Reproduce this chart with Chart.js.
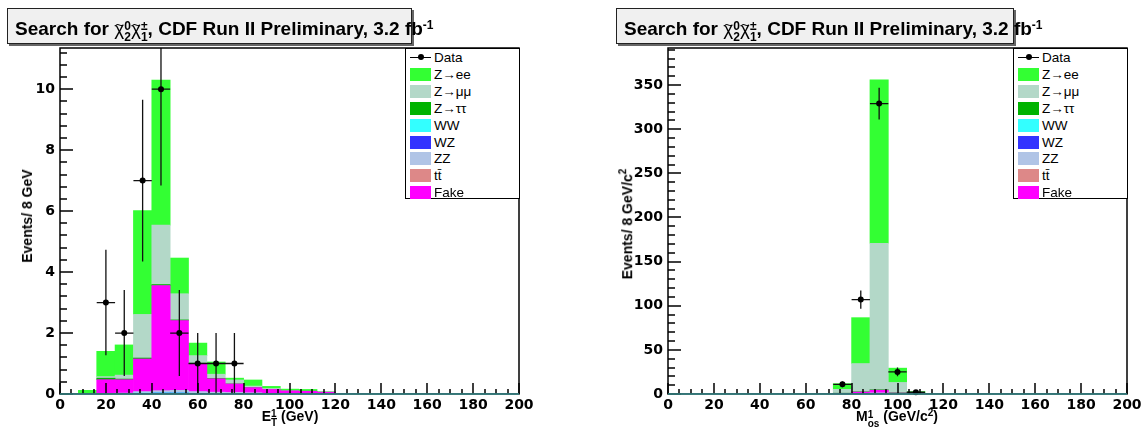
<!DOCTYPE html>
<html>
<head>
<meta charset="utf-8">
<script src="https://cdn.jsdelivr.net/npm/chart.js@4.4.1/dist/chart.umd.min.js"></script>
<style>
  body { margin: 0; background: #fff; font-family: "Liberation Sans", Arial, sans-serif; }
  #page { position: relative; width: 1147px; height: 431px; overflow: hidden; }
  canvas { position: absolute; top: 0; }
  .title { position: absolute; top: 8px; height: 36px; background: #f0f0f0; border: 1px solid #222;
           box-shadow: 2px 2px 0 #666; font-weight: bold; font-size: 19px; line-height: 40px;
           padding-left: 7px; box-sizing: border-box; white-space: nowrap; }
  .chi { position: relative; font-weight: normal; }
  .chi .til { position: absolute; left: 1px; top: -13px; font-size: 15px; font-weight: normal; }
  .ss { display: inline-block; vertical-align: -6px; font-size: 12px; line-height: 11px; text-align: left; }
  .ss > span { display: block; }
  .legend { position: absolute; top: 48px; height: 151px; background: #fff; border: 1px solid #000;
            box-sizing: border-box; font-size: 13.5px; }
  .legend .row { position: absolute; left: 0; height: 17px; line-height: 17px; width: 100%; }
  .legend .sw { position: absolute; left: 4px; top: 2px; width: 21px; height: 13px; box-sizing: border-box; }
  .legend .lab { position: absolute; left: 28px; top: 0; }
  .legend .dline { position: absolute; left: 4px; top: 8px; width: 21px; height: 1px; background: #000; }
  .legend .ddot { position: absolute; left: 12px; top: 5px; width: 6px; height: 6px; border-radius: 3px; background: #000; }
  .axt { position: absolute; font-weight: bold; font-size: 14px; white-space: nowrap; transform: translate(-50%, -50%); }
  .axt.rot { transform: translate(-50%, -50%) rotate(-90deg); }
  .axt .ss { font-size: 10px; line-height: 9px; vertical-align: -5px; }
  .axt sup { font-size: 10px; }
</style>
</head>
<body>
<div id="page">
  <canvas id="etChart" width="573" height="431" style="left:0"></canvas>
  <canvas id="mChart" width="573" height="431" style="left:574px"></canvas>

  <div class="title" style="left:7px;width:405px">Search for <span class="chi">χ<span class="til">~</span></span><span class="ss"><span>0</span><span>2</span></span><span class="chi">χ<span class="til">~</span></span><span class="ss"><span>±</span><span>1</span></span>, CDF Run II Preliminary, 3.2 fb<span class="ss" style="vertical-align:6px"><span>-1</span></span></div>
  <div class="title" style="left:616px;width:398px">Search for <span class="chi">χ<span class="til">~</span></span><span class="ss"><span>0</span><span>2</span></span><span class="chi">χ<span class="til">~</span></span><span class="ss"><span>±</span><span>1</span></span>, CDF Run II Preliminary, 3.2 fb<span class="ss" style="vertical-align:6px"><span>-1</span></span></div>

  <div class="legend" id="etLegend" style="left:405px;width:115px"></div>
  <div class="legend" id="mLegend" style="left:1013px;width:115px"></div>

  <div class="axt rot" style="left:27px;top:216px">Events/ 8 GeV</div>
  <div class="axt" style="left:290px;top:417px">E<span class="ss"><span>1</span><span>T</span></span> (GeV)</div>
  <div class="axt rot" style="left:626px;top:224px">Events/ 8 GeV/c<sup>2</sup></div>
  <div class="axt" style="left:897px;top:417px">M<span class="ss"><span>1</span><span>os</span></span> (GeV/c<sup>2</sup>)</div>
</div>

<script>
// 8 GeV bins from 0 to 200
const binCenters = [4, 12, 20, 28, 36, 44, 52, 60, 68, 76, 84, 92, 100, 108, 116, 124, 132, 140, 148, 156, 164, 172, 180, 188, 196];

// stack order bottom -> top
const bkgNames  = ['tt̄', 'WZ', 'WW', 'ZZ', 'Fake', 'Z→ττ', 'Z→μμ', 'Z→ee'];
const bkgColors = ['#dd8888', '#3333ff', '#33ffff', '#b0c4e6', '#ff00ff', '#00b300', '#b3d8c8', '#33ff33'];
// legend order
const legendNames = ['Z→ee', 'Z→μμ', 'Z→ττ', 'WW', 'WZ', 'ZZ', 'tt̄', 'Fake'];

// ---- E_T^1 panel ----
const etTT   = [0, 0, 0, 0, 0, 0.01, 0.01, 0, 0, 0, 0, 0, 0, 0, 0, 0, 0, 0, 0, 0, 0, 0, 0, 0, 0];
const etWZ   = [0, 0, 0, 0.01, 0.02, 0.02, 0.02, 0.01, 0.01, 0.01, 0.01, 0, 0, 0, 0, 0, 0, 0, 0, 0, 0, 0, 0, 0, 0];
const etWW   = [0, 0, 0, 0, 0.01, 0.01, 0.01, 0.01, 0, 0, 0, 0, 0, 0, 0, 0, 0, 0, 0, 0, 0, 0, 0, 0, 0];
const etZZ   = [0, 0, 0.02, 0.02, 0.05, 0.07, 0.08, 0.06, 0.05, 0.04, 0.03, 0.02, 0.02, 0.02, 0.01, 0.01, 0.01, 0.01, 0, 0, 0, 0, 0, 0, 0];
const etFake = [0, 0.02, 0.45, 0.44, 1.07, 3.45, 2.29, 0.91, 0.44, 0.28, 0.17, 0.13, 0.08, 0.07, 0.05, 0.01, 0, 0, 0, 0, 0, 0, 0, 0, 0];
const etZtt  = [0, 0, 0.05, 0.02, 0.03, 0.03, 0.02, 0.02, 0.01, 0, 0, 0, 0, 0, 0, 0, 0, 0, 0, 0, 0, 0, 0, 0, 0];
const etZmm  = [0, 0, 0.05, 0.13, 1.43, 1.95, 0.86, 0.25, 0.14, 0.13, 0.05, 0.03, 0.02, 0, 0, 0, 0, 0, 0, 0, 0, 0, 0, 0, 0];
const etZee  = [0, 0.10, 0.83, 0.99, 3.41, 4.76, 1.17, 0.41, 0.40, 0.06, 0.20, 0.07, 0.04, 0.06, 0.01, 0, 0, 0, 0, 0, 0, 0, 0, 0, 0];
const etDataX   = [20, 28, 36, 44, 52, 60, 68, 76];
const etDataY   = [3, 2, 7, 10, 2, 1, 1, 1];
const etDataErr = [1.73, 1.41, 2.65, 3.16, 1.41, 1, 1, 1];

// ---- M_os^1 panel ----
const mTT   = [0, 0, 0, 0, 0, 0, 0, 0, 0, 0, 0, 0, 0, 0, 0, 0, 0, 0, 0, 0, 0, 0, 0, 0, 0];
const mWZ   = [0, 0, 0, 0, 0, 0, 0, 0, 0, 0, 0.2, 0.3, 0.1, 0, 0, 0, 0, 0, 0, 0, 0, 0, 0, 0, 0];
const mWW   = [0, 0, 0, 0, 0, 0, 0, 0, 0, 0, 0, 0, 0, 0, 0, 0, 0, 0, 0, 0, 0, 0, 0, 0, 0];
const mZZ   = [0, 0, 0, 0, 0, 0, 0, 0, 0, 0.5, 0.5, 1.0, 0.3, 0, 0, 0, 0, 0, 0, 0, 0, 0, 0, 0, 0];
const mFake = [0, 0, 0, 0, 0, 0, 0, 0, 0, 0.3, 1.5, 3.0, 0.7, 0.2, 0, 0, 0, 0, 0, 0, 0, 0, 0, 0, 0];
const mZtt  = [0, 0, 0, 0, 0, 0, 0, 0, 0, 0.1, 0.3, 0.5, 0.2, 0, 0, 0, 0, 0, 0, 0, 0, 0, 0, 0, 0];
const mZmm  = [0, 0, 0, 0, 0, 0, 0, 0, 0, 4.4, 32, 166, 11.8, 1.0, 0, 0, 0, 0, 0, 0, 0, 0, 0, 0, 0];
const mZee  = [0, 0, 0, 0, 0, 0, 0, 0, 0, 6.4, 52, 185, 16.2, 1.5, 0, 0, 0, 0, 0, 0, 0, 0, 0, 0, 0];
const mDataX   = [76, 84, 92, 100, 108];
const mDataY   = [11, 107, 329, 25, 2];
const mDataErr = [3.3, 10.3, 18.1, 5, 1.4];

const tickFont = { family: '"DejaVu Sans", Arial, sans-serif', size: 14, weight: 'bold' };

// ROOT-style frame with ticks pointing inwards
function rootFrame(yMajor, yMinor) {
  return {
    id: 'rootFrame',
    afterDatasetsDraw(chart) {
      const { ctx, chartArea: a, scales: { x, y } } = chart;
      ctx.save();
      ctx.strokeStyle = '#000';
      ctx.lineWidth = 1.5;
      ctx.beginPath();
      for (let v = 0; v <= y.max + 1e-9; v += yMinor) {
        const py = Math.round(y.getPixelForValue(v));
        const major = Math.abs(v / yMajor - Math.round(v / yMajor)) < 1e-6;
        ctx.moveTo(a.left, py);
        ctx.lineTo(a.left + (major ? 13 : 7), py);
      }
      for (let v = 0; v <= 200; v += 5) {
        const px = Math.round(x.getPixelForValue(v));
        const major = v % 20 === 0;
        ctx.moveTo(px, a.bottom);
        ctx.lineTo(px, a.bottom - (major ? 11 : 5));
      }
      ctx.stroke();
      ctx.lineWidth = 1.5;
      ctx.strokeRect(a.left, a.top, a.right - a.left, a.bottom - a.top);
      ctx.strokeStyle = '#3a8f8f';
      ctx.beginPath();
      ctx.moveTo(a.left, a.bottom);
      ctx.lineTo(a.right, a.bottom);
      ctx.stroke();
      ctx.restore();
    }
  };
}

// error bars for the data points (dataset 0)
const errorBars = {
  id: 'errorBars',
  beforeDatasetDraw(chart, args) {
    if (args.index !== 0) return;
    const { ctx, chartArea: a, scales: { x, y } } = chart;
    const ds = chart.data.datasets[0];
    ctx.save();
    ctx.beginPath();
    ctx.rect(a.left, a.top, a.right - a.left, a.bottom - a.top);
    ctx.clip();
    ctx.strokeStyle = '#111';
    ctx.lineWidth = 1.3;
    ctx.beginPath();
    ds.data.forEach((p, i) => {
      const px = x.getPixelForValue(p.x);
      const py = y.getPixelForValue(p.y);
      ctx.moveTo(x.getPixelForValue(p.x - 4), py);
      ctx.lineTo(x.getPixelForValue(p.x + 4), py);
      ctx.moveTo(px, y.getPixelForValue(Math.max(0, p.y - ds.errors[i])));
      ctx.lineTo(px, y.getPixelForValue(p.y + ds.errors[i]));
    });
    ctx.stroke();
    ctx.restore();
  }
};

function makePanel(id, stacks, dataX, dataY, dataErr, yMax, yMajor, yMinor, yAxisWidth, padRight) {
  const datasets = [{
    type: 'line',
    label: 'Data',
    data: dataX.map((v, i) => ({ x: v, y: dataY[i] })),
    errors: dataErr,
    showLine: false,
    pointRadius: 3,
    pointBackgroundColor: '#000',
    pointBorderColor: '#000',
    pointBorderWidth: 0,
    stack: 'data',
    clip: false
  }];
  stacks.forEach((vals, k) => {
    datasets.push({
      type: 'bar',
      label: bkgNames[k],
      data: binCenters.map((c, i) => ({ x: c, y: vals[i] })),
      backgroundColor: bkgColors[k],
      borderWidth: 0,
      barPercentage: 1,
      categoryPercentage: 1,
      stack: 'bkg'
    });
  });

  new Chart(document.getElementById(id).getContext('2d'), {
    data: { datasets },
    options: {
      responsive: false,
      animation: false,
      events: [],
      layout: { padding: { top: 48, right: padRight, left: 0, bottom: 0 } },
      plugins: {
        legend: { display: false },
        tooltip: { enabled: false }
      },
      scales: {
        x: {
          type: 'linear', min: 0, max: 200, stacked: true, offset: false,
          grid: { display: false, drawTicks: false },
          border: { display: false },
          ticks: { stepSize: 20, font: tickFont, color: '#000', padding: 3, maxRotation: 0 },
          afterFit: s => { s.height = 37; }
        },
        y: {
          type: 'linear', min: 0, max: yMax, stacked: true,
          grid: { display: false, drawTicks: false },
          border: { display: false },
          ticks: { stepSize: yMajor, font: tickFont, color: '#000', padding: 5 },
          afterBuildTicks: s => { s.ticks = s.ticks.filter(t => Math.abs(t.value / yMajor - Math.round(t.value / yMajor)) < 1e-6); },
          afterFit: s => { s.width = yAxisWidth; }
        }
      }
    },
    plugins: [rootFrame(yMajor, yMinor), errorBars]
  });
}

function makeLegend(id) {
  const box = document.getElementById(id);
  let html = '<div class="row" style="top:0px"><div class="dline"></div><div class="ddot"></div><div class="lab">Data</div></div>';
  legendNames.forEach((name, i) => {
    const col = bkgColors[bkgNames.indexOf(name)];
    html += '<div class="row" style="top:' + Math.round((i + 1) * 16.9) + 'px"><div class="sw" style="background:' + col + '"></div><div class="lab">' + name + '</div></div>';
  });
  box.innerHTML = html;
}

makePanel('etChart', [etTT, etWZ, etWW, etZZ, etFake, etZtt, etZmm, etZee], etDataX, etDataY, etDataErr, 11.35, 2, 0.4, 60, 54);
makePanel('mChart', [mTT, mWZ, mWW, mZZ, mFake, mZtt, mZmm, mZee], mDataX, mDataY, mDataErr, 392, 50, 10, 94, 20);
makeLegend('etLegend');
makeLegend('mLegend');
</script>
</body>
</html>
